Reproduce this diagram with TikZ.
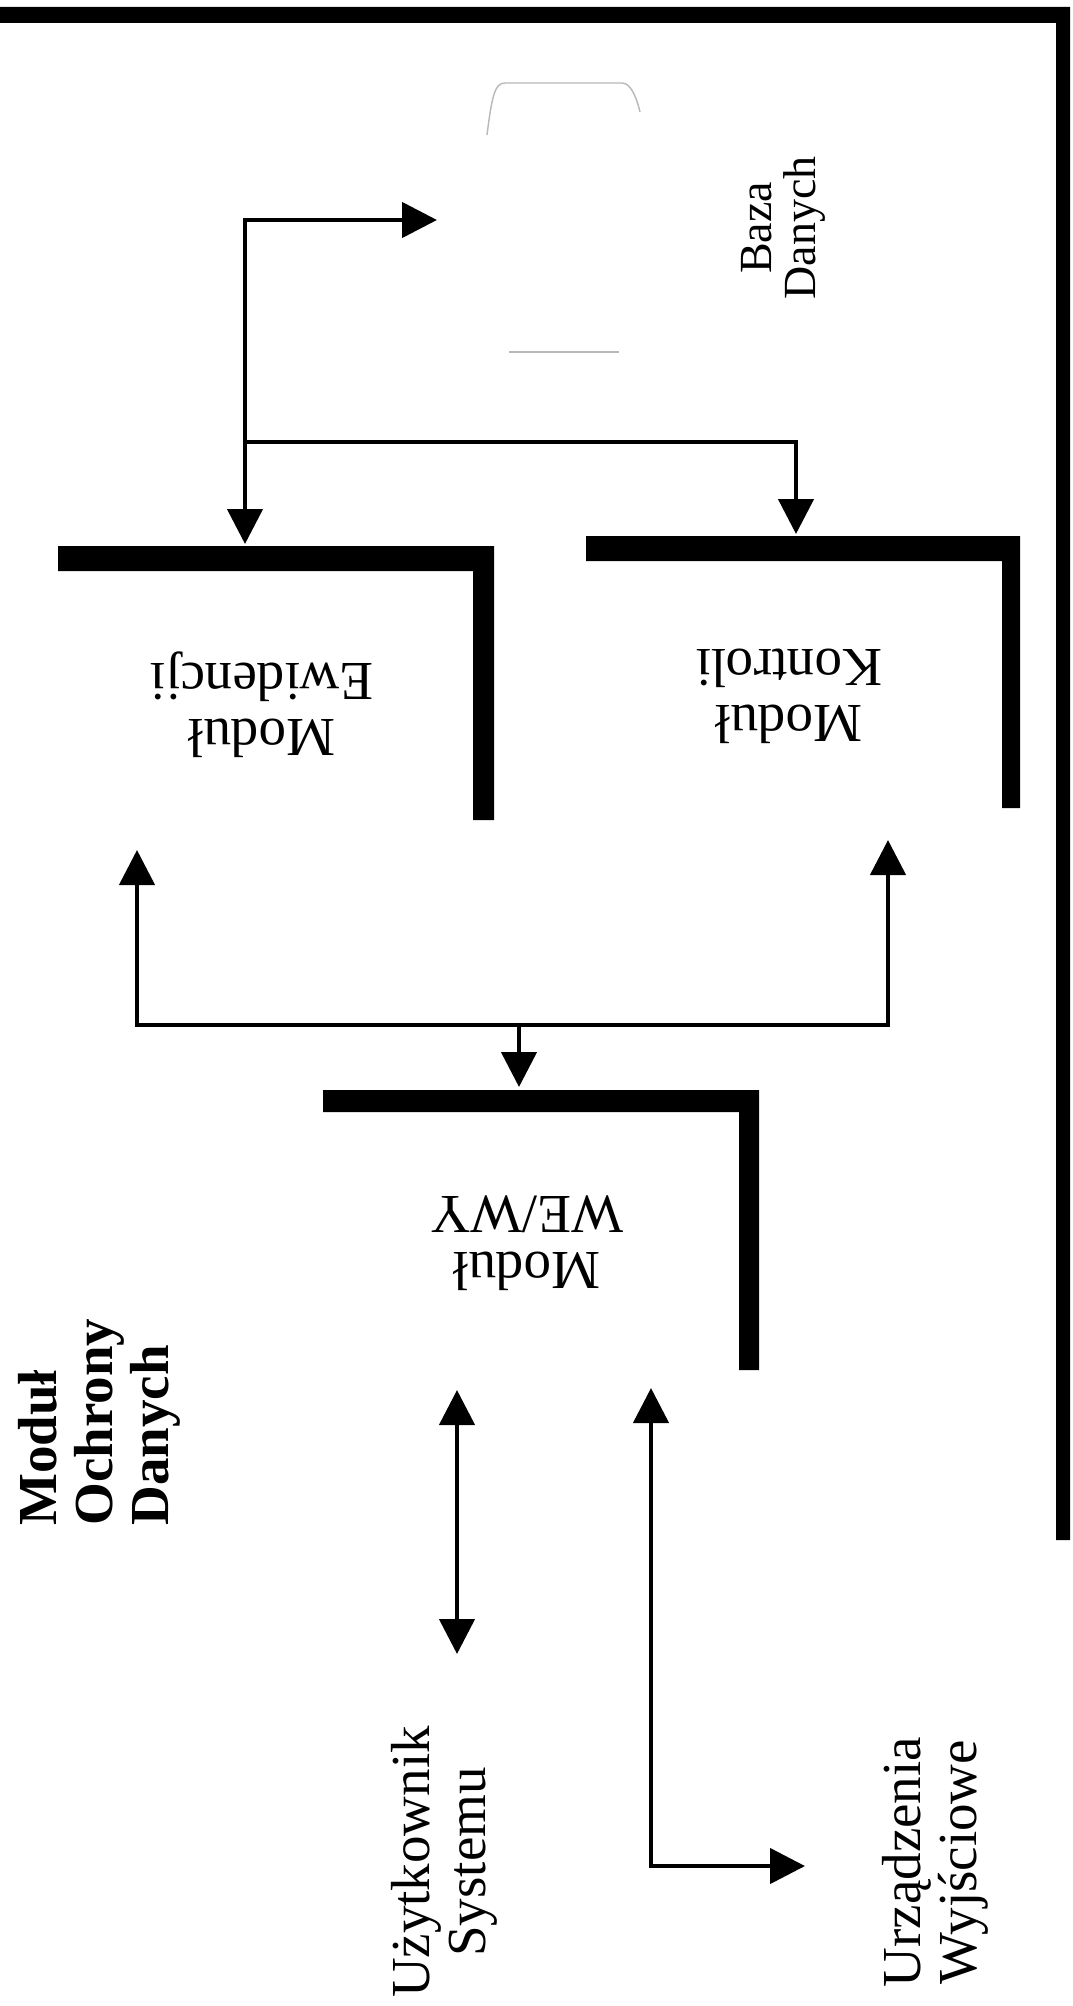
\documentclass[tikz,border=0pt]{standalone}
\usepackage{fontspec}
\setmainfont{Liberation Serif}
\usetikzlibrary{arrows.meta}
\tikzset{
  conn/.style={line width=2.25pt, line join=miter},
  tri/.tip={Triangle[length=17.5pt,width=17.5pt]},
  lbig/.style={inner sep=0pt, font=\fontsize{27.5}{28}\selectfont, align=center},
  lbold/.style={inner sep=0pt, font=\fontsize{27.5}{28}\selectfont\bfseries, align=left},
  lsmall/.style={inner sep=0pt, font=\fontsize{23}{22}\selectfont, align=center},
  faint/.style={draw=black!28, line width=0.7pt}
}
\begin{document}
\begin{tikzpicture}[x=0.5pt,y=-0.5pt]
\useasboundingbox (0,0) rectangle (1072,2006);
\fill[white] (0,0) rectangle (1072,2006);
% outer frame (top and right)
\fill (0,7) -- (1070,7) -- (1070,1540) -- (1056,1540) -- (1056,23) -- (0,23) -- cycle;
% database (faint cylinder outline)
\draw[faint] (487,135) .. controls (492,95) and (495,83) .. (505,83) -- (622,83) .. controls (630,83) and (636,95) .. (640,112);
\draw[faint] (509,352) -- (619,352);
\node[lsmall, rotate=90] (db) at (783,228) {Baza\\Danych};
% module L-shapes
\fill (58,546) -- (494,546) -- (494,820) -- (473,820) -- (473,571) -- (58,571) -- cycle;
\fill (586,536) -- (1020,536) -- (1020,808) -- (1002,808) -- (1002,561) -- (586,561) -- cycle;
\fill (323,1090) -- (759,1090) -- (759,1370) -- (739,1370) -- (739,1112) -- (323,1112) -- cycle;
\node[lbig, rotate=180] (ew) at (262,705) {Moduł\\Ewidencji};
\node[lbig, rotate=180] (ko) at (789,696) {Moduł\\Kontroli};
\node[lbig, rotate=180] (we) at (527,1243) {Moduł\\WE/WY};
\node[lbold, rotate=90, anchor=north west] (mod) at (18,1526) {Moduł\\Ochrony\\Danych};
\node[lbig, rotate=90] (usr) at (444,1862) {Użytkownik\\Systemu};
\node[lbig, rotate=90] (dev) at (935,1862) {Urządzenia\\Wyjściowe};
% connector points
\coordinate (dbIn) at (437,220);
\coordinate (ewIn) at (245,544);
\coordinate (jB) at (245,442);
\coordinate (koIn) at (796,534);
\coordinate (ewOut) at (137,850);
\coordinate (koOut) at (888,840);
\coordinate (busL) at (137,1025);
\coordinate (busR) at (888,1025);
\coordinate (busM) at (519,1025);
\coordinate (weIn) at (519,1087);
\coordinate (usrTop) at (457,1390);
\coordinate (usrBot) at (457,1654);
\coordinate (devTop) at (651,1388);
\coordinate (devIn) at (805,1866);
% connectors
\draw[conn, tri-tri] (ewIn) |- (dbIn);
\draw[conn, -tri] (jB) -| (koIn);
\draw[conn, tri-tri] (ewOut) -- (busL) -- (busR) -- (koOut);
\draw[conn, -tri] (busM) -- (weIn);
\draw[conn, tri-tri] (usrTop) -- (usrBot);
\draw[conn, tri-tri] (devTop) |- (devIn);
\end{tikzpicture}
\end{document}
